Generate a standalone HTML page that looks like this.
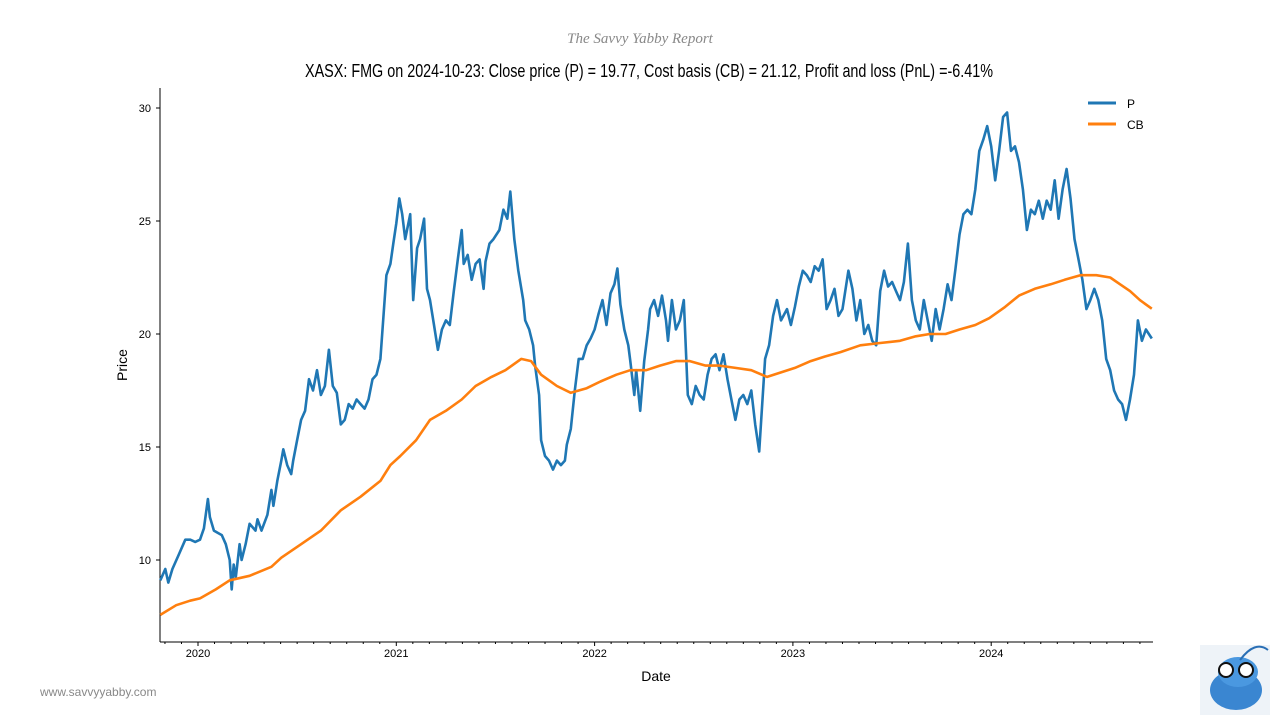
<!DOCTYPE html>
<html><head><meta charset="utf-8"><style>
html,body{margin:0;padding:0;background:#fff;}
svg{display:block;font-family:"Liberation Sans Narrow","Liberation Sans",sans-serif;}
</style></head><body>
<svg id="chart" width="1280" height="720" viewBox="0 0 1280 720">
<text x="640" y="43" text-anchor="middle" font-size="15" font-style="italic" fill="#888" font-family="Liberation Serif, serif">The Savvy Yabby Report</text>
<text x="305" y="77" font-size="18" fill="#000" textLength="688" lengthAdjust="spacingAndGlyphs">XASX: FMG on 2024-10-23: Close price (P) = 19.77, Cost basis (CB) = 21.12, Profit and loss (PnL) =-6.41%</text>
<g id="axes"></g>
<g id="series"></g>
<text x="127" y="365" text-anchor="middle" font-size="14" transform="rotate(-90 127 365)">Price</text>
<text x="656" y="681" text-anchor="middle" font-size="14">Date</text>
<g>
<line x1="1088" y1="103" x2="1116" y2="103" stroke="#1f77b4" stroke-width="3"/>
<text x="1127" y="108" font-size="12">P</text>
<line x1="1088" y1="124" x2="1116" y2="124" stroke="#ff7f0e" stroke-width="3"/>
<text x="1127" y="129" font-size="12">CB</text>
</g>
<text x="40" y="696" font-size="12" fill="#888" font-family="Liberation Sans, sans-serif">www.savvyyabby.com</text>
<g>
<rect x="1200" y="645" width="70" height="70" fill="#eef3f8"/>
<ellipse cx="1236" cy="690" rx="26" ry="20" fill="#3a86d1"/>
<ellipse cx="1238" cy="672" rx="20" ry="15" fill="#4a98e0"/>
<circle cx="1226" cy="670" r="7" fill="#fff" stroke="#111" stroke-width="2"/>
<circle cx="1246" cy="670" r="7" fill="#fff" stroke="#111" stroke-width="2"/>
<path d="M1240 660 Q1255 640 1268 650" stroke="#2a6fb5" stroke-width="2" fill="none"/>
</g>
</svg>
<script>
const pDates=[2019.81,2019.835,2019.85,2019.871,2019.901,2019.936,2019.961,2019.986,2020.01,2020.03,2020.05,2020.06,2020.08,2020.10,2020.12,2020.14,2020.16,2020.17,2020.18,2020.19,2020.21,2020.22,2020.24,2020.26,2020.29,2020.30,2020.32,2020.35,2020.37,2020.38,2020.40,2020.42,2020.43,2020.45,2020.47,2020.48,2020.50,2020.52,2020.54,2020.56,2020.58,2020.60,2020.62,2020.64,2020.66,2020.68,2020.70,2020.72,2020.74,2020.76,2020.78,2020.80,2020.82,2020.84,2020.86,2020.88,2020.90,2020.92,2020.95,2020.97,2020.985,2021.00,2021.015,2021.03,2021.045,2021.07,2021.085,2021.105,2021.12,2021.14,2021.155,2021.17,2021.19,2021.21,2021.23,2021.25,2021.27,2021.29,2021.31,2021.33,2021.34,2021.36,2021.38,2021.40,2021.42,2021.44,2021.45,2021.47,2021.49,2021.52,2021.54,2021.56,2021.575,2021.595,2021.615,2021.64,2021.65,2021.67,2021.69,2021.70,2021.72,2021.73,2021.75,2021.77,2021.79,2021.81,2021.83,2021.85,2021.86,2021.88,2021.90,2021.92,2021.94,2021.96,2021.98,2022.00,2022.02,2022.04,2022.06,2022.08,2022.10,2022.115,2022.13,2022.15,2022.17,2022.18,2022.20,2022.21,2022.23,2022.25,2022.27,2022.28,2022.30,2022.32,2022.34,2022.36,2022.37,2022.39,2022.41,2022.43,2022.45,2022.47,2022.49,2022.51,2022.53,2022.55,2022.57,2022.59,2022.61,2022.63,2022.65,2022.67,2022.69,2022.71,2022.73,2022.75,2022.77,2022.79,2022.81,2022.83,2022.84,2022.86,2022.88,2022.90,2022.92,2022.94,2022.97,2022.99,2023.01,2023.03,2023.05,2023.07,2023.09,2023.11,2023.13,2023.15,2023.17,2023.19,2023.21,2023.23,2023.25,2023.28,2023.30,2023.32,2023.34,2023.36,2023.38,2023.40,2023.42,2023.44,2023.46,2023.48,2023.50,2023.52,2023.54,2023.56,2023.58,2023.60,2023.62,2023.64,2023.66,2023.68,2023.70,2023.72,2023.74,2023.76,2023.78,2023.80,2023.82,2023.84,2023.86,2023.88,2023.90,2023.92,2023.94,2023.96,2023.98,2024.00,2024.02,2024.04,2024.06,2024.08,2024.10,2024.12,2024.14,2024.16,2024.18,2024.20,2024.22,2024.24,2024.26,2024.28,2024.30,2024.32,2024.34,2024.36,2024.38,2024.40,2024.42,2024.44,2024.46,2024.48,2024.50,2024.52,2024.54,2024.56,2024.58,2024.60,2024.62,2024.64,2024.66,2024.68,2024.70,2024.72,2024.74,2024.76,2024.78,2024.81];
const pValues=[9.1,9.6,9.0,9.6,10.2,10.9,10.9,10.8,10.9,11.4,12.7,11.9,11.3,11.2,11.1,10.7,10.0,8.7,9.8,9.2,10.7,10.0,10.7,11.6,11.3,11.8,11.3,12.0,13.1,12.4,13.5,14.4,14.9,14.2,13.8,14.4,15.3,16.2,16.6,18.0,17.5,18.4,17.3,17.7,19.3,17.7,17.4,16.0,16.2,16.9,16.7,17.1,16.9,16.7,17.1,18.0,18.2,18.9,22.6,23.1,24.0,24.9,26.0,25.3,24.2,25.3,21.5,23.8,24.2,25.1,22.0,21.5,20.4,19.3,20.2,20.6,20.4,21.9,23.3,24.6,23.1,23.5,22.4,23.1,23.3,22.0,23.2,24.0,24.2,24.6,25.5,25.1,26.3,24.2,22.8,21.5,20.6,20.2,19.5,18.6,17.3,15.3,14.6,14.4,14.0,14.4,14.2,14.4,15.1,15.8,17.5,18.9,18.9,19.5,19.8,20.2,20.9,21.5,20.4,21.8,22.2,22.9,21.3,20.2,19.5,18.8,17.3,18.4,16.6,18.8,20.2,21.1,21.5,20.8,21.7,20.6,19.7,21.5,20.2,20.6,21.5,17.3,16.9,17.7,17.3,17.1,18.2,18.9,19.1,18.4,19.1,18.0,17.1,16.2,17.1,17.3,16.9,17.5,16.0,14.8,16.2,18.9,19.5,20.8,21.5,20.6,21.1,20.4,21.2,22.1,22.8,22.6,22.3,23.0,22.8,23.3,21.1,21.5,22.0,20.8,21.1,22.8,22.0,20.6,21.5,20.0,20.4,19.7,19.5,21.9,22.8,22.1,22.3,21.9,21.5,22.3,24.0,21.5,20.6,20.2,21.5,20.6,19.7,21.1,20.2,21.1,22.2,21.5,22.9,24.4,25.3,25.5,25.3,26.4,28.1,28.6,29.2,28.3,26.8,28.1,29.6,29.8,28.1,28.3,27.6,26.4,24.6,25.5,25.3,25.9,25.1,25.9,25.5,26.8,25.1,26.4,27.3,26.0,24.2,23.3,22.4,21.1,21.5,22.0,21.5,20.6,18.9,18.4,17.5,17.1,16.9,16.2,17.1,18.2,20.6,19.7,20.2,19.8];
const cbDates=[2019.81,2019.89,2019.96,2020.01,2020.09,2020.16,2020.26,2020.37,2020.42,2020.52,2020.62,2020.72,2020.82,2020.92,2020.97,2021.02,2021.10,2021.17,2021.25,2021.33,2021.40,2021.48,2021.55,2021.63,2021.68,2021.73,2021.81,2021.88,2021.96,2022.03,2022.11,2022.18,2022.26,2022.33,2022.41,2022.48,2022.56,2022.63,2022.71,2022.79,2022.87,2022.94,2023.01,2023.09,2023.16,2023.24,2023.34,2023.44,2023.54,2023.62,2023.69,2023.77,2023.84,2023.92,2023.99,2024.07,2024.14,2024.22,2024.30,2024.37,2024.45,2024.53,2024.60,2024.65,2024.70,2024.75,2024.81];
const cbValues=[7.57,8.0,8.2,8.3,8.7,9.1,9.3,9.7,10.1,10.7,11.3,12.2,12.8,13.5,14.2,14.6,15.3,16.2,16.6,17.1,17.7,18.1,18.4,18.9,18.8,18.2,17.7,17.4,17.6,17.9,18.2,18.4,18.4,18.6,18.8,18.8,18.6,18.6,18.5,18.4,18.1,18.3,18.5,18.8,19.0,19.2,19.5,19.6,19.7,19.9,20.0,20.0,20.2,20.4,20.7,21.2,21.7,22.0,22.2,22.4,22.6,22.6,22.5,22.2,21.9,21.5,21.12];
const yTicks=[10,15,20,25,30];
const xTicks=[2020,2021,2022,2023,2024];

const NS='http://www.w3.org/2000/svg';
const L=160,R=1153,T=88,B=642;
const x=t=>198+(t-2020)*198.3;
const y=v=>108+(30-v)*22.6;
const axes=document.getElementById('axes'),series=document.getElementById('series');
function mk(tag,at,parent){const e=document.createElementNS(NS,tag);for(const k in at)e.setAttribute(k,at[k]);parent.appendChild(e);return e;}

const ls=mk('line',{x1:L,y1:T,x2:L,y2:B,stroke:'#000','stroke-width':1},axes);


const bs=mk('line',{x1:L,y1:B,x2:R,y2:B,stroke:'#000','stroke-width':1},axes);


yTicks.forEach(v=>{
  const tk=mk('line',{x1:L-4,y1:y(v),x2:L,y2:y(v),stroke:'#000'},axes);
  
  
  const tx=mk('text',{x:L-9,y:y(v)+4,'text-anchor':'end','font-size':11},axes);
  tx.textContent=v;
  
  
});
for(let m=0;m<61;m++){
  const t=2019+10/12+m/12; if(t<2019.81||t>2024.81)continue;
  const major=Math.abs(t-Math.round(t))<1e-6;
  const tk=mk('line',{x1:x(t),y1:B,x2:x(t),y2:B+(major?4:2),stroke:'#000'},axes);
  
  
}
xTicks.forEach(t=>{
  const tx=mk('text',{x:x(t),y:B+15,'text-anchor':'middle','font-size':11},axes);
  tx.textContent=t;
  
  
});
function path(ds,vs){return ds.map((d,i)=>(i?'L':'M')+x(d).toFixed(1)+' '+y(vs[i]).toFixed(1)).join(' ');}
const pl=mk('path',{d:path(pDates,pValues),fill:'none',stroke:'#1f77b4','stroke-width':2.6,'stroke-linejoin':'round'},series);


const cl=mk('path',{d:path(cbDates,cbValues),fill:'none',stroke:'#ff7f0e','stroke-width':2.6,'stroke-linejoin':'round'},series);


</script>
</body></html>
